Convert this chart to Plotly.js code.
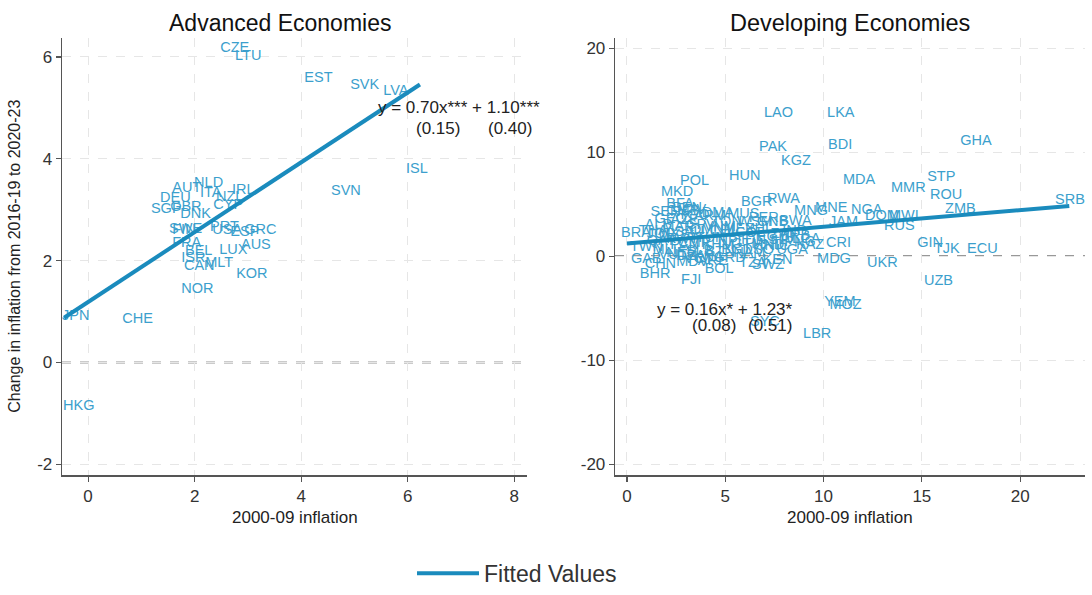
<!DOCTYPE html>
<html>
<head>
<meta charset="utf-8">
<script src="https://cdn.plot.ly/plotly-3.0.1.min.js"></script>
<style>html,body{margin:0;padding:0;background:#fff}#chart{width:1092px;height:595px}</style>
</head>
<body>
<div id="chart"></div>
<script>
// ---- Advanced economies (2000-09 inflation vs change in inflation) ----
const advCodes = ['CZE','LTU','EST','SVK','LVA','ISL','SVN','AUT','NLD','ITA','NZL','IRL','DEU','GBR','SGP','CYP','DNK','SWE','FIN','PRT','USA','ESP','GRC','FRA','BEL','LUX','AUS','ISR','MLT','CAN','KOR','NOR','CHE','JPN','HKG'];
const advX = [2.48,2.76,4.06,4.92,5.54,5.97,4.56,1.58,1.99,2.10,2.40,2.70,1.35,1.54,1.18,2.35,1.73,1.52,1.58,2.29,2.33,2.67,2.93,1.58,1.82,2.46,2.87,1.75,2.20,1.80,2.78,1.75,0.64,-0.49,-0.47];
const advY = [6.17,6.02,5.57,5.44,5.32,3.79,3.36,3.42,3.52,3.33,3.25,3.38,3.23,3.05,3.00,3.09,2.90,2.61,2.59,2.65,2.59,2.55,2.59,2.34,2.18,2.20,2.30,2.05,1.95,1.89,1.74,1.43,0.85,0.90,-0.86];
const advFitX = [-0.45, 6.23];
const advFitY = [0.88, 5.46];

// ---- Developing economies ----
const devCodes = ['LAO','LKA','PAK','BDI','KGZ','GHA','HUN','POL','MKD','MDA','MMR','STP','ROU','ZMB','SRB','RWA','BGR','MNG','MNE','NGA','BWA','JAM','DOM','MWI','RUS','CRI','GIN','TJK','ECU','MDG','UKR','UZB','YEM','MOZ','LBR','LBY','SYC',
 'BFA','BEN','SEN','GMB','CIV','DMA','MUS','TGO','ARM',
 'GEO','ALB','AZE','TON','WSM','PER','GNB','MAR','CPV','VNM',
 'BRA','THA','JOR','MYS','SAU','OMN','CHL','MEX','COL','PHL','ZAF','IND','BRB','LCA','PNG','SLV',
 'QAT','KWT','CMR','TUN','PAN','IDN','EGY','NPL','KHM','GTM','HND','NIC','UGA','KAZ',
 'TWN','MLI','NER','SLB','VUT','BTN','BGD','NAM','LSO','DZA','KNA','VCT','GRD',
 'GAB','CHN','MDV','ARE','BHR','FJI','BOL','TZA','SWZ','KEN'];
const devX = [6.97,10.18,6.72,10.23,7.84,16.95,5.19,2.70,1.73,10.99,13.43,15.27,15.42,16.18,21.78,7.12,5.80,8.50,9.57,11.40,7.74,10.28,12.11,13.33,13.08,10.13,14.76,15.62,17.30,9.67,12.21,15.11,10.03,10.30,8.96,-0.87,6.26,
 2.00,2.30,1.20,2.00,2.80,3.80,5.10,2.60,3.40,
 1.40,0.90,2.20,4.30,5.60,6.20,6.60,1.80,3.00,3.90,
 -0.30,0.60,1.00,1.60,2.40,3.20,4.20,4.90,5.50,6.00,7.30,7.90,7.80,8.40,8.00,7.20,
 1.00,2.00,2.60,3.50,2.20,5.80,6.60,4.60,3.80,5.30,6.40,7.00,7.60,8.60,
 0.15,1.30,2.00,3.00,1.60,4.00,4.80,5.40,6.00,2.50,3.40,2.90,4.40,
 0.20,0.90,2.50,3.60,0.65,2.75,3.95,5.70,6.35,6.90];
const devY = [13.74,13.74,10.43,10.62,9.10,11.00,7.68,7.20,6.16,7.30,6.54,7.58,5.88,4.55,5.40,5.50,5.20,4.27,4.64,4.45,3.32,3.22,3.79,3.79,2.84,1.23,1.23,0.66,0.66,-0.28,-0.66,-2.46,-4.45,-4.70,-7.49,-12.99,-6.35,
 5.00,4.60,4.20,4.30,4.40,4.10,4.00,3.90,3.80,
 3.50,3.00,3.40,3.30,3.30,3.60,3.30,2.80,3.00,2.80,
 2.20,2.40,2.10,2.00,2.30,2.50,2.40,2.60,2.20,2.60,2.10,2.40,1.90,1.60,1.30,1.50,
 1.40,1.60,1.20,1.70,1.00,1.50,1.80,1.30,1.00,1.10,1.00,0.90,0.60,1.00,
 0.85,0.60,0.30,0.50,0.10,0.40,0.60,0.30,0.60,0.00,-0.10,-0.30,-0.20,
 -0.30,-0.75,-0.60,-0.50,-1.70,-2.30,-1.25,-0.70,-0.90,-0.35];
const devFitX = [0.0, 22.5];
const devFitY = [1.23, 4.83];

const advTickVals = [-2,0,2,4,6], advTickText = ['-2','0','2','4','6'];
const advXTicks = [0,2,4,6,8];
const devTickVals = [-20,-10,0,10,20], devTickText = ['-20','-10','0','10','20'];
const devXTicks = [0,5,10,15,20];

const FONT = 'Liberation Sans, Arial, sans-serif';
const labelColor = '#3c9fcd';
const fitColor = '#1a8bbd';
const eqFont = {family: FONT, size: 17, color: '#222'};

const traces = [
  {x: advX, y: advY, text: advCodes, mode: 'text', textposition: 'middle right',
   textfont: {family: FONT, size: 14.5, color: labelColor}, xaxis: 'x', yaxis: 'y',
   showlegend: false, cliponaxis: false, hoverinfo: 'text'},
  {x: advFitX, y: advFitY, mode: 'lines', line: {color: fitColor, width: 4},
   name: 'Fitted Values', xaxis: 'x', yaxis: 'y', showlegend: true},
  {x: devX, y: devY, text: devCodes, mode: 'text', textposition: 'middle right',
   textfont: {family: FONT, size: 14.5, color: labelColor}, xaxis: 'x2', yaxis: 'y2',
   showlegend: false, cliponaxis: false, hoverinfo: 'text'},
  {x: devFitX, y: devFitY, mode: 'lines', line: {color: fitColor, width: 4},
   name: 'Fitted Values', xaxis: 'x2', yaxis: 'y2', showlegend: false}
];

const axBase = {
  showline: true, linecolor: '#555', linewidth: 1.3,
  ticks: 'outside', ticklen: 5, tickcolor: '#555', tickwidth: 1.2,
  showgrid: true, gridcolor: '#e6e6e6', griddash: 'dash', gridwidth: 1,
  zeroline: false, tickfont: {family: FONT, size: 17, color: '#333'}
};
const yDom = [1 - 485/595, 1 - 39/595];

const layout = {
  width: 1092, height: 595,
  margin: {l: 0, r: 0, t: 0, b: 0},
  paper_bgcolor: '#fff', plot_bgcolor: '#fff',
  font: {family: FONT},
  xaxis: Object.assign({}, axBase, {domain: [62/1092, 527/1092], range: [-0.49, 8.24], tickvals: advXTicks, anchor: 'y'}),
  yaxis: Object.assign({}, axBase, {domain: yDom, range: [-2.213, 6.368], tickvals: advTickVals, ticktext: advTickText, anchor: 'x'}),
  xaxis2: Object.assign({}, axBase, {domain: [615/1092, 1085/1092], range: [-0.61, 23.3], tickvals: devXTicks, anchor: 'y2'}),
  yaxis2: Object.assign({}, axBase, {domain: yDom, range: [-21.04, 20.95], tickvals: devTickVals, ticktext: devTickText, anchor: 'x2'}),
  shapes: [
    {type: 'line', xref: 'x domain', yref: 'y', x0: 0, x1: 1, y0: 0, y1: 0, line: {color: '#333', width: 1.3, dash: 'dash'}, layer: 'below'},
    {type: 'line', xref: 'x2 domain', yref: 'y2', x0: 0, x1: 1, y0: 0, y1: 0, line: {color: '#333', width: 1.3, dash: 'dash'}, layer: 'below'}
  ],
  legend: {orientation: 'h', x: 412/1092, y: 1 - 585/595, xanchor: 'left', yanchor: 'middle', itemwidth: 62,
           font: {family: FONT, size: 23, color: '#333'}, bgcolor: 'rgba(0,0,0,0)'},
  annotations: [
    {text: 'Advanced Economies', xref: 'paper', yref: 'paper', x: 280/1092, y: 1 - 23/595, xanchor: 'center', yanchor: 'middle', showarrow: false, font: {family: FONT, size: 23, color: '#111'}},
    {text: 'Developing Economies', xref: 'paper', yref: 'paper', x: 850/1092, y: 1 - 23/595, xanchor: 'center', yanchor: 'middle', showarrow: false, font: {family: FONT, size: 23.5, color: '#111'}},
    {text: 'Change in inflation from 2016-19 to 2020-23', xref: 'paper', yref: 'paper', x: 15/1092, y: 1 - 262/595, textangle: -90, xanchor: 'center', yanchor: 'middle', showarrow: false, font: {family: FONT, size: 16, color: '#222'}},
    {text: '2000-09 inflation', xref: 'paper', yref: 'paper', x: 295/1092, y: 1 - 528/595, xanchor: 'center', yanchor: 'middle', showarrow: false, font: {family: FONT, size: 17, color: '#222'}},
    {text: '2000-09 inflation', xref: 'paper', yref: 'paper', x: 850/1092, y: 1 - 528/595, xanchor: 'center', yanchor: 'middle', showarrow: false, font: {family: FONT, size: 17, color: '#222'}},
    {text: 'y = 0.70x*** + 1.10***', xref: 'x', yref: 'y', x: 5.41, y: 5.01, xanchor: 'left', yanchor: 'middle', showarrow: false, font: eqFont},
    {text: '(0.15)', xref: 'x', yref: 'y', x: 6.12, y: 4.60, xanchor: 'left', yanchor: 'middle', showarrow: false, font: eqFont},
    {text: '(0.40)', xref: 'x', yref: 'y', x: 7.47, y: 4.60, xanchor: 'left', yanchor: 'middle', showarrow: false, font: eqFont},
    {text: 'y = 0.16x* + 1.23*', xref: 'x2', yref: 'y2', x: 1.42, y: -5.12, xanchor: 'left', yanchor: 'middle', showarrow: false, font: eqFont},
    {text: '(0.08)', xref: 'x2', yref: 'y2', x: 3.2, y: -6.63, xanchor: 'left', yanchor: 'middle', showarrow: false, font: eqFont},
    {text: '(0.51)', xref: 'x2', yref: 'y2', x: 6.06, y: -6.63, xanchor: 'left', yanchor: 'middle', showarrow: false, font: eqFont}
  ]
};

Plotly.newPlot('chart', traces, layout, {displayModeBar: false, staticPlot: true});
</script>
</body>
</html>
